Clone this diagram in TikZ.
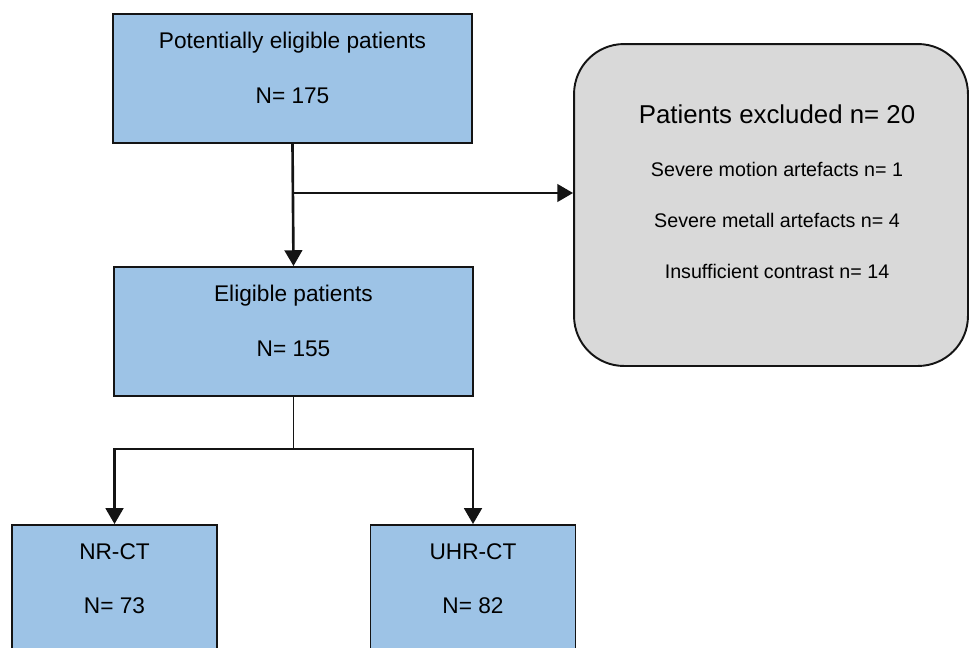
\documentclass[tikz,border=0pt]{standalone}
\usepackage{fontspec}
\setmainfont{Liberation Sans}
\usepackage{xcolor}
\usetikzlibrary{arrows.meta,positioning}

\definecolor{boxblue}{HTML}{9DC3E6}
\definecolor{boxgray}{HTML}{D9D9D9}
\definecolor{edge}{HTML}{141414}

\begin{document}
\begin{tikzpicture}[x=0.02cm,y=-0.02cm]

\tikzset{
  bluebox/.style={draw=edge, line width=1.1pt, fill=boxblue,
    minimum width=7.18cm, minimum height=2.58cm, inner sep=0pt},
  smallbox/.style={bluebox, minimum width=4.1cm},
  exclbox/.style={draw=edge, line width=1.1pt, fill=boxgray,
    rounded corners=1cm, minimum width=7.88cm, minimum height=6.44cm},
  boxtxt/.style={anchor=base, inner sep=0pt, font=\fontsize{12.9}{15}\selectfont},
  titletxt/.style={anchor=base, inner sep=0pt, font=\fontsize{14.7}{17}\selectfont},
  listtxt/.style={anchor=base, inner sep=0pt, font=\fontsize{11.2}{13}\selectfont},
  flow/.style={draw=edge, line width=1.5pt, -{Triangle[width=10pt,length=9pt]}},
}

\useasboundingbox (0,0) rectangle (970,647);
\clip (0,0) rectangle (970,647);

% boxes
\node[bluebox] (pot) at (292.5,78.5) {};
\node[boxtxt] (pott) at ([yshift=-0.7cm]pot.north) {Potentially eligible patients};
\node[boxtxt] (potn) at ([yshift=-1.8cm]pot.north) {N= 175};

\node[bluebox] (elig) at (293.5,331.5) {};
\node[boxtxt] (eligt) at ([yshift=-0.7cm]elig.north) {Eligible patients};
\node[boxtxt] (elign) at ([yshift=-1.8cm]elig.north) {N= 155};

\node[exclbox] (excl) at (771,205) {};
\node[titletxt] (exclt) at ([xshift=0.12cm,yshift=-1.6cm]excl.north) {Patients excluded n= 20};
\node[listtxt] (excl1) at ([xshift=0.12cm,yshift=-2.66cm]excl.north) {Severe motion artefacts n= 1};
\node[listtxt] (excl2) at ([xshift=0.12cm,yshift=-3.68cm]excl.north) {Severe metall artefacts n= 4};
\node[listtxt] (excl3) at ([xshift=0.12cm,yshift=-4.7cm]excl.north) {Insufficient contrast n= 14};

\node[smallbox] (nrct) at (114.5,589.5) {};
\node[boxtxt] (nrctt) at ([yshift=-0.7cm]nrct.north) {NR-CT};
\node[boxtxt] (nrctn) at ([yshift=-1.78cm]nrct.north) {N= 73};

\node[smallbox] (uhrct) at (473,589.5) {};
\node[boxtxt] (uhrctt) at ([yshift=-0.7cm]uhrct.north) {UHR-CT};
\node[boxtxt] (uhrctn) at ([yshift=-1.78cm]uhrct.north) {N= 82};

% connectors
\coordinate (branch) at (292.5,193);
\coordinate (split) at (293.5,449);

\draw[flow] (pot.south) -- (elig.north);
\draw[flow] (branch) -- (branch -| excl.west);

\draw[draw=edge, line width=0.6pt] (elig.south) -- (split);
\draw[flow] (split) -| (nrct.north);
\draw[flow] (split) -| (uhrct.north);

\end{tikzpicture}
\end{document}
